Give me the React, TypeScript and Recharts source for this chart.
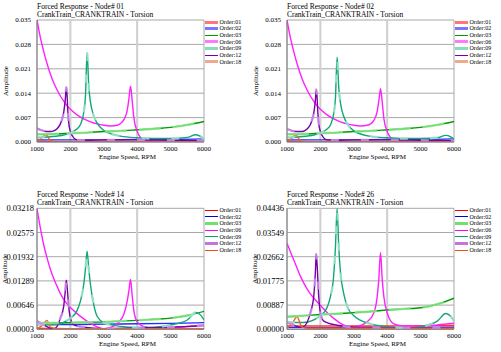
import React from "react";
import { LineChart, Line, XAxis, YAxis, CartesianGrid, ReferenceLine } from "recharts";

type Pt = [number, number];

const rpmTicks = [1000, 2000, 3000, 4000, 5000, 6000];
const orderNames = ["Order:01", "Order:02", "Order:03", "Order:06", "Order:09", "Order:12", "Order:18"];

// y ticks per node
const ticksNode01 = [0, 0.007, 0.014, 0.021, 0.028, 0.035];
const ticksNode02 = [0, 0.007, 0.014, 0.021, 0.028, 0.035];
const ticksNode14 = [0.00003, 0.00646, 0.01289, 0.01932, 0.02575, 0.03218];
const ticksNode26 = [0, 0.00887, 0.01775, 0.02662, 0.03549, 0.04436];

// ---- Node 01
const n01o01: Pt[] = [[1000, 0.0002], [2000, 0.0001], [4000, 0.0001], [6000, 0.0001]];
const n01o02: Pt[] = [[1000, 0.0006], [2000, 0.0006], [3000, 0.0006], [4000, 0.0007], [5000, 0.0007], [6000, 0.0009]];
const n01o03: Pt[] = [[1000, 0.0022], [1500, 0.0023], [2000, 0.0025], [2500, 0.0027], [3000, 0.003], [3500, 0.0032], [4000, 0.0035], [4500, 0.0038], [5000, 0.0042], [5500, 0.0049], [6000, 0.0059]];
const n01o06: Pt[] = [[1000, 0.035], [1100, 0.0300], [1200, 0.026], [1300, 0.0225], [1400, 0.0195], [1500, 0.017], [1600, 0.015], [1700, 0.0132], [1800, 0.0117], [1900, 0.0104], [2000, 0.0094], [2200, 0.0078], [2400, 0.0066], [2600, 0.0058], [2800, 0.0052], [3000, 0.0048], [3200, 0.0046], [3400, 0.0048], [3500, 0.0053], [3600, 0.0064], [3700, 0.009], [3750, 0.0122], [3800, 0.016], [3850, 0.0118], [3900, 0.007], [4000, 0.003], [4100, 0.0013], [4200, 0.0006], [4500, 0.0003], [5000, 0.0002], [6000, 0.0001]];
const n01o09: Pt[] = [[1000, 0.0013], [1400, 0.0015], [1800, 0.002], [2000, 0.0026], [2200, 0.0038], [2300, 0.005], [2400, 0.0085], [2450, 0.013], [2500, 0.0256], [2550, 0.016], [2600, 0.0115], [2700, 0.0075], [2800, 0.0054], [3000, 0.0033], [3200, 0.0024], [3500, 0.0017], [4000, 0.0012], [4500, 0.001], [5000, 0.001], [5500, 0.0013], [5750, 0.0021], [5900, 0.0016], [6000, 0.0008]];
const n01o12: Pt[] = [[1000, 0.0039], [1100, 0.0035], [1200, 0.0032], [1300, 0.003], [1400, 0.003], [1500, 0.0032], [1600, 0.0038], [1700, 0.0052], [1750, 0.0065], [1800, 0.0085], [1850, 0.0125], [1875, 0.0157], [1900, 0.0135], [1925, 0.0085], [1950, 0.0055], [2000, 0.003], [2100, 0.0012], [2200, 0.0006], [2500, 0.0005], [3000, 0.0006], [4000, 0.0006], [5000, 0.0005], [6000, 0.0004]];
const n01o18: Pt[] = [[1000, 0.0003], [1150, 0.0012], [1250, 0.0021], [1300, 0.0019], [1400, 0.0004], [1600, 0.0001], [6000, 0.0001]];

// ---- Node 02
const n02o01: Pt[] = [[1000, 0.0002], [2000, 0.0001], [4000, 0.0001], [6000, 0.0001]];
const n02o02: Pt[] = [[1000, 0.0006], [2000, 0.0006], [3000, 0.0006], [4000, 0.0007], [5000, 0.0007], [6000, 0.0009]];
const n02o03: Pt[] = [[1000, 0.0022], [1500, 0.0023], [2000, 0.0025], [2500, 0.0027], [3000, 0.003], [3500, 0.0032], [4000, 0.0035], [4500, 0.0038], [5000, 0.0042], [5500, 0.0049], [6000, 0.0059]];
const n02o06: Pt[] = [[1000, 0.035], [1100, 0.0300], [1200, 0.026], [1300, 0.0225], [1400, 0.0195], [1500, 0.017], [1600, 0.015], [1700, 0.0132], [1800, 0.0117], [1900, 0.0104], [2000, 0.0094], [2200, 0.0078], [2400, 0.0066], [2600, 0.0058], [2800, 0.0052], [3000, 0.0048], [3200, 0.0046], [3400, 0.0048], [3500, 0.0052], [3600, 0.0062], [3700, 0.0088], [3750, 0.0118], [3800, 0.0153], [3850, 0.0115], [3900, 0.0068], [4000, 0.003], [4100, 0.0013], [4200, 0.0006], [4500, 0.0003], [5000, 0.0002], [6000, 0.0001]];
const n02o09: Pt[] = [[1000, 0.0013], [1400, 0.0015], [1800, 0.002], [2000, 0.0026], [2200, 0.0037], [2300, 0.0049], [2400, 0.0082], [2450, 0.0125], [2500, 0.0243], [2550, 0.0155], [2600, 0.0112], [2700, 0.0073], [2800, 0.0053], [3000, 0.0032], [3200, 0.0023], [3500, 0.0016], [4000, 0.0012], [4500, 0.001], [5000, 0.001], [5500, 0.0012], [5750, 0.0019], [5900, 0.0015], [6000, 0.0008]];
const n02o12: Pt[] = [[1000, 0.0037], [1100, 0.0034], [1200, 0.0031], [1300, 0.003], [1400, 0.003], [1500, 0.0031], [1600, 0.0037], [1700, 0.005], [1750, 0.0063], [1800, 0.0082], [1850, 0.012], [1875, 0.0151], [1900, 0.013], [1925, 0.0082], [1950, 0.0053], [2000, 0.003], [2100, 0.0012], [2200, 0.0006], [2500, 0.0005], [3000, 0.0006], [4000, 0.0006], [5000, 0.0005], [6000, 0.0004]];
const n02o18: Pt[] = [[1000, 0.0003], [1150, 0.0011], [1250, 0.002], [1300, 0.0018], [1400, 0.0004], [1600, 0.0001], [6000, 0.0001]];

// ---- Node 14
const n14o01: Pt[] = [[1000, 0.0003], [2000, 0.0002], [3000, 0.0002], [4000, 0.0003], [5000, 0.0005], [6000, 0.001]];
const n14o02: Pt[] = [[1000, 0.0013], [2000, 0.0013], [3000, 0.0014], [4000, 0.0015], [5000, 0.0016], [6000, 0.0018]];
const n14o03: Pt[] = [[1000, 0.0017], [1500, 0.0017], [2000, 0.0018], [2500, 0.0019], [3000, 0.002], [3500, 0.0022], [4000, 0.0024], [4500, 0.0027], [5000, 0.003], [5500, 0.0037], [6000, 0.0048]];
const n14o06: Pt[] = [[1000, 0.0321], [1100, 0.027], [1200, 0.0225], [1300, 0.019], [1400, 0.016], [1500, 0.0135], [1600, 0.0115], [1700, 0.0095], [1800, 0.008], [1900, 0.0068], [2000, 0.0058], [2200, 0.0042], [2400, 0.0028], [2600, 0.0016], [2800, 0.0007], [3000, 0.0002], [3200, 0.0005], [3400, 0.0015], [3600, 0.004], [3700, 0.0075], [3750, 0.0102], [3800, 0.0133], [3850, 0.009], [3900, 0.005], [4000, 0.002], [4200, 0.0007], [4500, 0.0003], [5000, 0.0004], [5500, 0.0008], [6000, 0.0012]];
const n14o09: Pt[] = [[1000, 0.0015], [1500, 0.0012], [2000, 0.003], [2200, 0.005], [2300, 0.0075], [2400, 0.012], [2450, 0.016], [2500, 0.0208], [2550, 0.016], [2600, 0.012], [2700, 0.0065], [2800, 0.0035], [3000, 0.0018], [3500, 0.0008], [4000, 0.0005], [4500, 0.0006], [5000, 0.0012], [5500, 0.0025], [5750, 0.0045], [5900, 0.0038], [6000, 0.0025]];
const n14o12: Pt[] = [[1000, 0.0022], [1200, 0.0012], [1400, 0.0003], [1500, 0.0001], [1600, 0.0008], [1700, 0.003], [1800, 0.0062], [1850, 0.0105], [1875, 0.0131], [1900, 0.0115], [1950, 0.006], [2000, 0.003], [2100, 0.0012], [2400, 0.0006], [3000, 0.0002], [4000, 0.0004], [5000, 0.0006], [6000, 0.001]];
const n14o18: Pt[] = [[1000, 0.0002], [1150, 0.001], [1300, 0.0024], [1400, 0.0006], [1600, 0.0002], [6000, 0.0002]];

// ---- Node 26
const n26o01: Pt[] = [[1000, 0.0012], [2000, 0.0012], [3000, 0.0012], [4000, 0.0012], [5000, 0.0013], [6000, 0.0014]];
const n26o02: Pt[] = [[1000, 0.0006], [2000, 0.0006], [3000, 0.0006], [4000, 0.0007], [5000, 0.0007], [6000, 0.0008]];
const n26o03: Pt[] = [[1000, 0.0046], [1500, 0.005], [2000, 0.0054], [2500, 0.0057], [3000, 0.0061], [3500, 0.0065], [4000, 0.0071], [4500, 0.0075], [5000, 0.0079], [5500, 0.0092], [6000, 0.0114]];
const n26o06: Pt[] = [[1000, 0.0315], [1100, 0.0285], [1200, 0.0255], [1300, 0.0225], [1400, 0.0195], [1500, 0.017], [1600, 0.0148], [1700, 0.013], [1800, 0.0115], [1900, 0.0101], [2000, 0.0088], [2200, 0.0062], [2400, 0.004], [2600, 0.0022], [2800, 0.0011], [3000, 0.0008], [3200, 0.0014], [3400, 0.0028], [3600, 0.006], [3700, 0.012], [3750, 0.0185], [3800, 0.0282], [3850, 0.0185], [3900, 0.012], [4000, 0.006], [4200, 0.002], [4500, 0.0012], [5000, 0.0012], [5500, 0.0016], [6000, 0.0022]];
const n26o09: Pt[] = [[1000, 0.0026], [1500, 0.0025], [2000, 0.005], [2200, 0.008], [2300, 0.012], [2400, 0.02], [2450, 0.03], [2500, 0.0443], [2550, 0.03], [2600, 0.021], [2700, 0.013], [2800, 0.0085], [3000, 0.005], [3500, 0.002], [4000, 0.001], [4500, 0.0005], [5000, 0.001], [5500, 0.003], [5750, 0.0058], [5900, 0.0048], [6000, 0.003]];
const n26o12: Pt[] = [[1000, 0.0025], [1200, 0.0015], [1400, 0.0008], [1500, 0.001], [1600, 0.0025], [1700, 0.006], [1800, 0.012], [1850, 0.021], [1875, 0.0276], [1900, 0.024], [1950, 0.012], [2000, 0.006], [2100, 0.003], [2500, 0.0015], [3000, 0.0008], [4000, 0.0006], [5000, 0.0005], [6000, 0.0006]];
const n26o18: Pt[] = [[1000, 0.0004], [1150, 0.002], [1300, 0.0046], [1450, 0.0008], [1600, 0.0004], [6000, 0.0004]];

const lineColors = ["#ff3030", "#2030ff", "#009a00", "#ff20ff", "#10a878", "#7a00a8", "#f06030"];
// pale dashed overlays: [color, dash]
const paleStyles: Record<number, [string, string]> = {
  2: ["#88e888", "22 12"],
  4: ["#a0e4cc", "8 22"],
  5: ["#cc90ec", "8 22"],
};

type Swatch = { color: string; width: number };
const legendTop: Swatch[] = [
  { color: "#ff7878", width: 3 },
  { color: "#7878ff", width: 3 },
  { color: "#009a00", width: 1 },
  { color: "#ff78ff", width: 3 },
  { color: "#88dcc0", width: 3 },
  { color: "#7a00a8", width: 1 },
  { color: "#f0a890", width: 3 },
];
const legendBottom: Swatch[] = [
  { color: "#ff0000", width: 1 },
  { color: "#0000e0", width: 1 },
  { color: "#70e070", width: 3 },
  { color: "#ff00ff", width: 1 },
  { color: "#00a070", width: 1 },
  { color: "#c078e0", width: 3 },
  { color: "#f05020", width: 1 },
];

const toRows = (pts: Pt[]) => pts.map(([rpm, amp]) => ({ rpm, amp }));
const FONT = "'Liberation Serif', 'Times New Roman', serif";

type PanelProps = {
  node: string;
  left: number;
  top: number;
  height: number;
  plotTop: number;
  series: Pt[][];
  ticks: number[];
  digits: number;
  yFont: number;
  legend: Swatch[];
};

function Panel({ node, left, top, height, plotTop, series, ticks, digits, yFont, legend }: PanelProps) {
  const isTop = top === 0;
  const plotBottom = height - (isTop ? 33 : 22.7);
  return (
    <div style={{ position: "absolute", left, top, width: 250, height }}>
      <div
        style={{
          position: "absolute",
          left: 37,
          top: plotTop - 17.5,
          fontFamily: FONT,
          fontSize: 7.5,
          lineHeight: "8px",
          whiteSpace: "nowrap",
          color: "#000",
        }}
      >
        <div>Forced Response - Node# {node}</div>
        <div>CrankTrain_CRANKTRAIN - Torsion</div>
      </div>
      <LineChart
        width={250}
        height={height}
        margin={{ top: plotTop, right: 46, bottom: height - plotBottom - 20, left: 0 }}
        style={{ fontFamily: FONT }}
      >
        <CartesianGrid stroke="#a8a8a8" strokeWidth={1} />
        <ReferenceLine x={2000} stroke="#d0d0d0" strokeWidth={2} />
        <ReferenceLine x={4000} stroke="#d0d0d0" strokeWidth={2} />
        <XAxis
          dataKey="rpm"
          type="number"
          domain={[1000, 6000]}
          ticks={rpmTicks}
          allowDataOverflow
          height={20}
          tickLine={false}
          tickSize={3}
          tickMargin={1}
          stroke="#808080"
          tick={{ fill: "#000", fontSize: 7 }}
          label={{ value: "Engine Speed, RPM", position: "insideBottom", offset: 3.3, dx: 7, fill: "#000", fontSize: 7 }}
        />
        <YAxis
          dataKey="amp"
          type="number"
          width={37}
          domain={[ticks[0], ticks[ticks.length - 1]]}
          ticks={ticks}
          allowDataOverflow
          interval={0}
          tickLine={false}
          tickSize={isTop ? 4 : 2}
          tickMargin={isTop ? 2 : 1}
          stroke="#808080"
          tickFormatter={(v: number) => v.toFixed(digits)}
          tick={{ fill: "#000", fontSize: yFont }}
          label={{
            value: "Amplitude",
            angle: -90,
            position: "insideLeft",
            offset: isTop ? 6 : 4.5,
            fill: "#000",
            fontSize: 7,
            style: { textAnchor: "middle" },
          }}
        />
        <YAxis yAxisId="frame" orientation="right" width={0} tick={false} stroke="#808080" />
        {series.map((pts, i) => (
          <Line
            key={`s${i}`}
            data={toRows(pts)}
            dataKey="amp"
            name={orderNames[i]}
            type="monotone"
            stroke={lineColors[i]}
            strokeWidth={1.4}
            dot={false}
            isAnimationActive={false}
          />
        ))}
        {series.map((pts, i) =>
          paleStyles[i] ? (
            <Line
              key={`p${i}`}
              data={toRows(pts)}
              dataKey="amp"
              type="monotone"
              stroke={paleStyles[i][0]}
              strokeWidth={2.4}
              strokeDasharray={paleStyles[i][1]}
              strokeOpacity={0.85}
              dot={false}
              legendType="none"
              isAnimationActive={false}
            />
          ) : null
        )}
      </LineChart>
      <div style={{ position: "absolute", left: 205, top: plotTop + 2 - 3.3, fontFamily: FONT, fontSize: 6 }}>
        {orderNames.map((n, i) => (
          <div key={n} style={{ display: "flex", alignItems: "center", height: 6.67 }}>
            <div style={{ width: 13, height: legend[i].width, background: legend[i].color, marginRight: 1.5 }} />
            <span style={{ lineHeight: "6.67px" }}>{n}</span>
          </div>
        ))}
      </div>
    </div>
  );
}

export default function App() {
  return (
    <div style={{ position: "absolute", left: 0, top: 0, width: 501, height: 352, background: "#fff" }}>
      <Panel node="01" left={0} top={0} height={175} plotTop={20}
        series={[n01o01, n01o02, n01o03, n01o06, n01o09, n01o12, n01o18]}
        ticks={ticksNode01} digits={3} yFont={7} legend={legendTop} />
      <Panel node="02" left={250} top={0} height={175} plotTop={20}
        series={[n02o01, n02o02, n02o03, n02o06, n02o09, n02o12, n02o18]}
        ticks={ticksNode02} digits={3} yFont={7} legend={legendTop} />
      <Panel node="14" left={0} top={175} height={177} plotTop={33.3}
        series={[n14o01, n14o02, n14o03, n14o06, n14o09, n14o12, n14o18]}
        ticks={ticksNode14} digits={5} yFont={8.5} legend={legendBottom} />
      <Panel node="26" left={250} top={175} height={177} plotTop={33.3}
        series={[n26o01, n26o02, n26o03, n26o06, n26o09, n26o12, n26o18]}
        ticks={ticksNode26} digits={5} yFont={8.5} legend={legendBottom} />
    </div>
  );
}
